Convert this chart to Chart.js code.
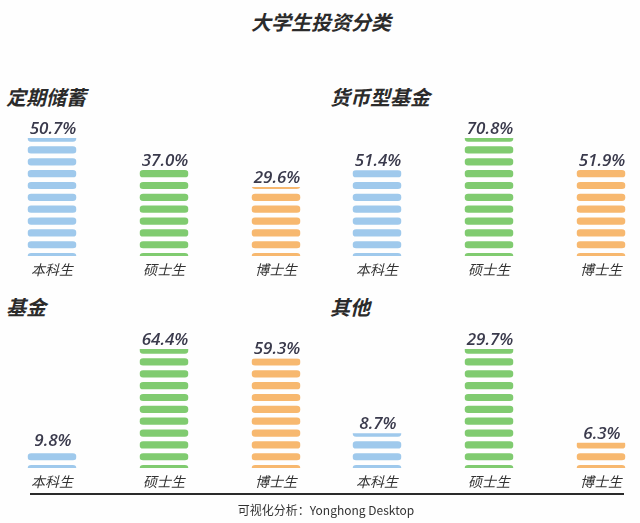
<!DOCTYPE html>
<html lang="zh">
<head>
<meta charset="UTF-8">
<title>大学生投资分类</title>
<script src="https://cdn.jsdelivr.net/npm/chart.js"></script>
<style>
  html, body { margin: 0; padding: 0; }
  body { width: 640px; height: 523px; position: relative; overflow: hidden; background: #fefefe;
         font-family: "Noto Sans CJK SC", "Noto Sans", sans-serif; color: #2b2b2b; }
  .title { position: absolute; left: 0; width: 642px; top: 7px; text-align: center;
           font-size: 20px; font-weight: bold; font-style: italic; }
  .panel-title { position: absolute; font-size: 20px; font-weight: bold; font-style: italic; }
  canvas { position: absolute; }
  .axis-line { position: absolute; left: 30px; top: 493px; width: 594px; height: 2px; background: #2a2a2a; }
  .footer { position: absolute; left: 0; width: 652px; top: 501px; text-align: center; font-size: 12px; color: #333; }
</style>
</head>
<body>
  <div class="title">大学生投资分类</div>
  <div class="panel-title" style="left:6px;top:82px" id="t0"></div>
  <div class="panel-title" style="left:330px;top:82px" id="t1"></div>
  <div class="panel-title" style="left:6px;top:292px" id="t2"></div>
  <div class="panel-title" style="left:330px;top:292px" id="t3"></div>

  <canvas id="c0" width="336" height="173" style="left:-4px;top:113px"></canvas>
  <canvas id="c1" width="336" height="173" style="left:321px;top:113px"></canvas>
  <canvas id="c2" width="336" height="174" style="left:-4px;top:324px"></canvas>
  <canvas id="c3" width="336" height="174" style="left:321px;top:324px"></canvas>

  <div class="axis-line"></div>
  <div class="footer">可视化分析：Yonghong Desktop</div>

<script>
  var categories = ['本科生', '硕士生', '博士生'];
  var panelTitles = ['定期储蓄', '货币型基金', '基金', '其他'];
  var savings = [50.7, 37.0, 29.6];
  var moneyFunds = [51.4, 70.8, 51.9];
  var funds = [9.8, 64.4, 59.3];
  var others = [8.7, 29.7, 6.3];
  var barColors = ['#9fc9ec', '#80cb70', '#f7b86f'];

  var panels = [savings, moneyFunds, funds, others];

  // draws each bar as a stack of rounded stripes, clipped to the bar rect
  var stripedBars = {
    id: 'stripedBars',
    afterDatasetsDraw: function(chart) {
      var ctx = chart.ctx;
      var ds = chart.data.datasets[0];
      var meta = chart.getDatasetMeta(0);
      meta.data.forEach(function(bar, i) {
        var p = bar.getProps(['x', 'y', 'base', 'width'], true);
        var left = p.x - p.width / 2;
        var h = p.base - p.y;
        ctx.save();
        ctx.beginPath();
        ctx.rect(left, p.y, p.width, h);
        ctx.clip();
        ctx.fillStyle = ds.stripeColors[i];
        for (var d = -4.2; d < h; d += 11.85) {
          var top = p.base - d - 7.2;
          ctx.beginPath();
          ctx.roundRect(left, top, p.width, 7.2, 3.6);
          ctx.fill();
        }
        ctx.restore();

        ctx.save();
        ctx.font = 'italic 600 17px "Open Sans", "Noto Sans", sans-serif';
        ctx.fillStyle = '#3a3a4c';
        ctx.textAlign = 'center';
        ctx.textBaseline = 'alphabetic';
        ctx.fillText(ds.data[i].toFixed(1) + '%', p.x + 1, p.y - 4);
        ctx.restore();
      });
    }
  };

  panels.forEach(function(values, k) {
    document.getElementById('t' + k).textContent = panelTitles[k];
    var ctx = document.getElementById('c' + k).getContext('2d');
    new Chart(ctx, {
      type: 'bar',
      data: {
        labels: categories,
        datasets: [{
          data: values,
          backgroundColor: 'rgba(0,0,0,0)',
          stripeColors: barColors,
          barThickness: 49
        }]
      },
      options: {
        responsive: false,
        animation: false,
        layout: { padding: { top: 25, left: 0, right: 0, bottom: 0 } },
        plugins: { legend: { display: false }, tooltip: { enabled: false } },
        scales: {
          x: {
            grid: { display: false, drawTicks: false },
            border: { display: false },
            ticks: {
              padding: 5,
              color: '#333',
              font: { family: '"Noto Sans CJK SC"', size: 14, style: 'italic' }
            },
            afterFit: function(scale) { scale.height = 30; }
          },
          y: {
            display: false,
            min: 0,
            max: Math.max.apply(null, values)
          }
        }
      },
      plugins: [stripedBars]
    });
  });
</script>
</body>
</html>
